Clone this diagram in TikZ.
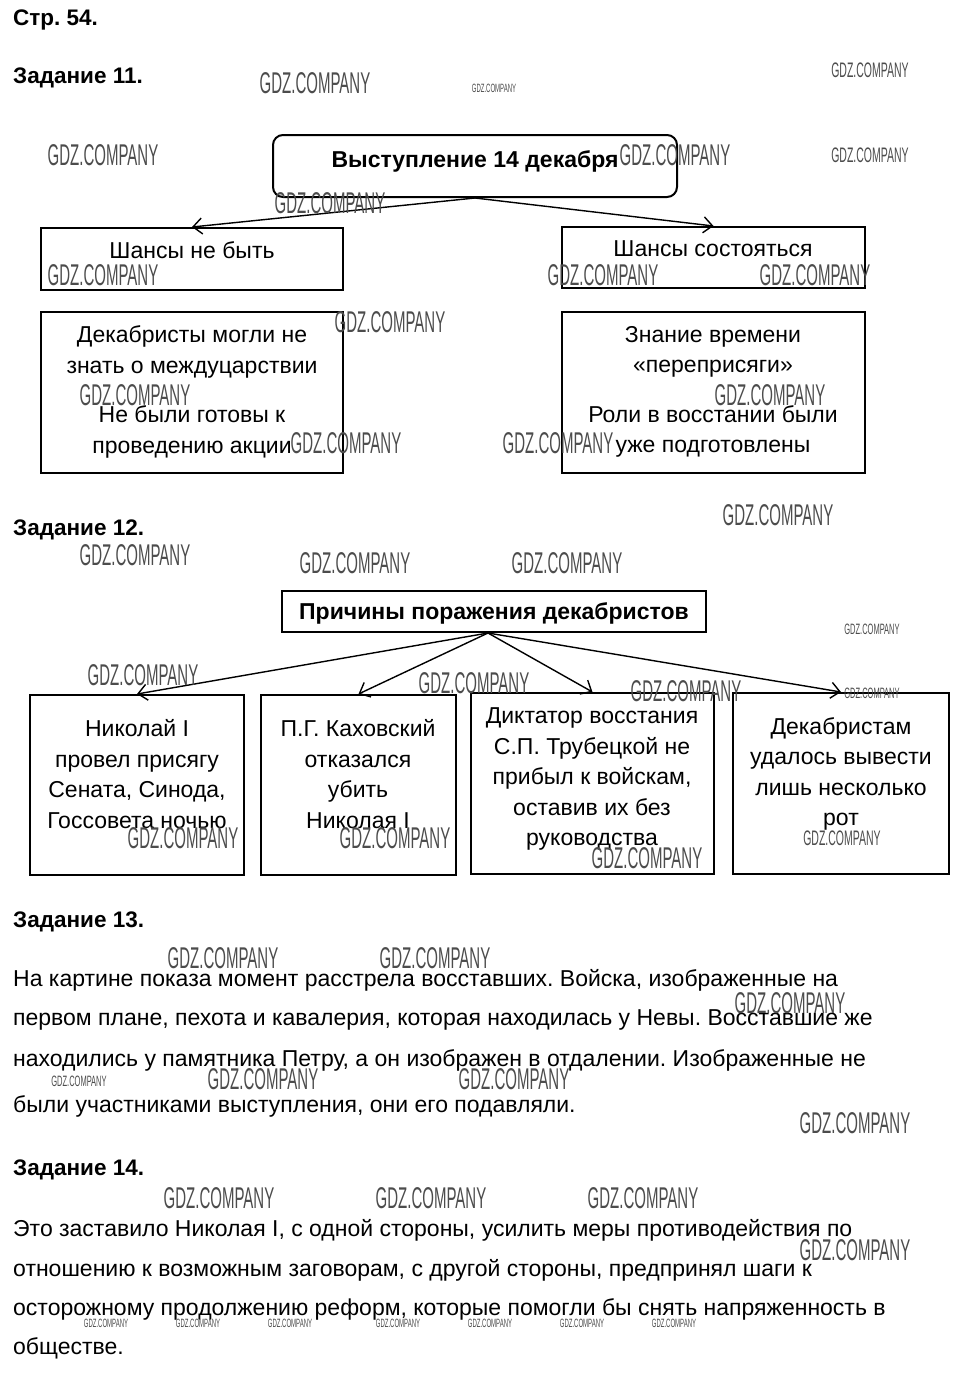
\documentclass[tikz,border=0pt]{standalone}
\usepackage{fontspec}
\setmainfont{Liberation Sans}
\newfontfamily\wmf[FakeStretch=0.5]{Liberation Sans}
\usetikzlibrary{arrows.meta}
\frenchspacing
\tikzset{
  box/.style={draw, line width=2pt, inner sep=0pt},
  btext/.style={inner sep=0pt, align=center, font=\fontsize{23}{30.5}\selectfont},
  conn/.style={line width=1.4pt, -{Straight Barb[length=9pt,width=16pt,line width=1.4pt]}},
  wml/.style={font=\wmf\fontsize{30}{30}\selectfont, text=black!70, inner sep=0pt},
  wmm/.style={font=\wmf\fontsize{21}{21}\selectfont, text=black!70, inner sep=0pt},
  wms/.style={font=\wmf\fontsize{15}{15}\selectfont, text=black!70, inner sep=0pt},
  wmt/.style={font=\wmf\fontsize{12}{12}\selectfont, text=black!70, inner sep=0pt},
  head/.style={anchor=west, inner sep=0pt, font=\bfseries\fontsize{22.5}{22.5}\selectfont},
  line/.style={anchor=west, inner sep=0pt, font=\fontsize{23}{23}\selectfont}
}
\begin{document}
\begin{tikzpicture}[x=1pt,y=-1pt]
\useasboundingbox[fill=white] (0,0) rectangle (960,1376);

% headings
\node[head] (h0) at (13,20) {Стр. 54.};
\node[head] (h11) at (13,78) {Задание 11.};
\node[head] (h12) at (13,530) {Задание 12.};
\node[head] (h13) at (13,922) {Задание 13.};
\node[head] (h14) at (13,1170) {Задание 14.};

% task 11
\node[box, rounded corners=10pt, minimum width=404pt, minimum height=62pt] (t11) at (475,166) {};
\node[btext, font=\bfseries\fontsize{23}{23}\selectfont] (t11t) at (475,161) {Выступление 14 декабря};
\node[box, minimum width=302pt, minimum height=62pt] (neg) at (192,259) {};
\node[btext] (negt) at (192,250) {Шансы не быть};
\node[box, minimum width=303pt, minimum height=61pt] (pos) at (713.5,257.5) {};
\node[btext] (post) at (713,249) {Шансы состояться};
\node[box, minimum width=302pt, minimum height=161pt] (neg2) at (192,392.5) {};
\node[btext] (neg2t) at (192,392)
  {Декабристы могли не\\знать о междуцарствии\\[19pt]Не были готовы к\\проведению акции};
\node[box, minimum width=303pt, minimum height=161pt] (pos2) at (713.5,392.5) {};
\node[btext] (pos2t) at (713,392)
  {Знание времени\\«переприсяги»\\[19pt]Роли в восстании были\\уже подготовлены};
\draw[conn] (t11.south) -- (neg.north);
\draw[conn] (t11.south) -- (pos.north);

% task 12
\node[box, minimum width=424pt, minimum height=41pt] (c12) at (494,611.5) {};
\node[btext, font=\bfseries\fontsize{23}{23}\selectfont] (c12t) at (494,613) {Причины поражения декабристов};
\node[box, minimum width=214pt, minimum height=180pt] (r1) at (137,785) {};
\node[btext] (r1t) at (137,774) {Николай I\\провел присягу\\Сената, Синода,\\Госсовета ночью};
\node[box, minimum width=195pt, minimum height=180pt] (r2) at (358.5,785) {};
\node[btext] (r2t) at (358,774) {П.Г. Каховский\\отказался\\убить\\Николая I};
\node[box, minimum width=243pt, minimum height=181pt] (r3) at (592.5,783.5) {};
\node[btext] (r3t) at (592,779) {Диктатор восстания\\С.П. Трубецкой не\\прибыл к войскам,\\оставив их без\\руководства};
\node[box, minimum width=216pt, minimum height=181pt] (r4) at (841,783.5) {};
\node[btext] (r4t) at (841,774) {Декабристам\\удалось вывести\\лишь несколько\\рот};
\coordinate (c12o) at ([xshift=-6pt]c12.south);
\draw[conn] (c12o) -- (r1.north);
\draw[conn] (c12o) -- (r2.north);
\draw[conn] (c12o) -- (r3.north);
\draw[conn] (c12o) -- (r4.north);

% task 13
\node[line] (p1) at (13,980) {На картине показа момент расстрела восставших. Войска, изображенные на};
\node[line] (p2) at (13,1020) {первом плане, пехота и кавалерия, которая находилась у Невы. Восставшие же};
\node[line] (p3) at (13,1060) {находились у памятника Петру, а он изображен в отдалении. Изображенные не};
\node[line] (p4) at (13,1106) {были участниками выступления, они его подавляли.};

% task 14
\node[line] (q1) at (13,1230) {Это заставило Николая I, с одной стороны, усилить меры противодействия по};
\node[line] (q2) at (13,1270) {отношению к возможным заговорам, с другой стороны, предпринял шаги к};
\node[line] (q3) at (13,1309) {осторожному продолжению реформ, которые помогли бы снять напряженность в};
\node[line] (q4) at (13,1348) {обществе.};

% watermarks
\foreach \x/\y/\s [count=\i] in {
  315/83/wml, 494/88/wmt, 870/70/wmm, 103/155/wml, 675/155/wml, 870/155/wmm,
  330/203/wml, 103/275/wml, 603/275/wml, 815/275/wml, 390/322/wml,
  135/395/wml, 346/443/wml, 770/395/wml, 558/443/wml, 778/515/wml,
  135/555/wml, 355/563/wml, 567/563/wml, 872/629/wms, 143/675/wml,
  474/683/wml, 686/691/wml, 872/693/wms, 183/838/wml, 395/838/wml,
  647/858/wml, 842/838/wmm, 223/958/wml, 435/958/wml, 790/1003/wml,
  79/1081/wms, 263/1079/wml, 514/1079/wml, 855/1123/wml,
  219/1198/wml, 431/1198/wml, 643/1198/wml, 855/1250/wml,
  106/1323/wmt, 198/1323/wmt, 290/1323/wmt, 398/1323/wmt, 490/1323/wmt, 582/1323/wmt, 674/1323/wmt}
  \node[\s] (w\i) at (\x,\y) {GDZ.COMPANY};
\end{tikzpicture}
\end{document}
